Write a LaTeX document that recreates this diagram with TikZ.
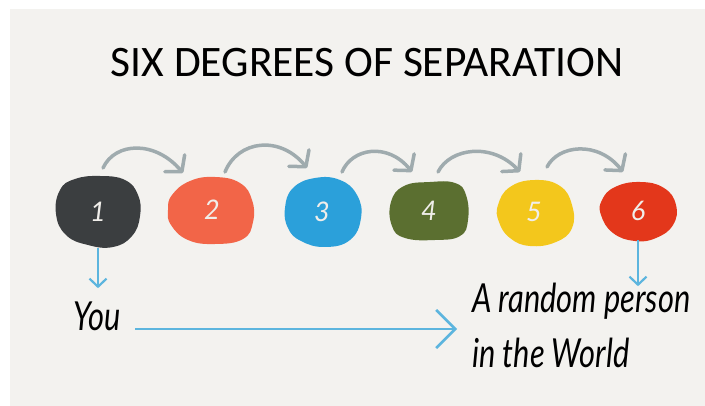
\documentclass[tikz,border=0pt]{standalone}
\usepackage{fontspec}
\usetikzlibrary{arrows.meta}
\newfontfamily\titlefont{Carlito}
\newfontfamily\handfont{Lato}
\definecolor{bgc}{HTML}{F3F2EF}
\definecolor{cone}{HTML}{3B3E40}
\definecolor{ctwo}{HTML}{F26548}
\definecolor{cthree}{HTML}{2BA0DA}
\definecolor{cfour}{HTML}{5B6F30}
\definecolor{cfive}{HTML}{F3C71C}
\definecolor{csix}{HTML}{E3371B}
\definecolor{grayarr}{HTML}{9FABAE}
\definecolor{bluearr}{HTML}{5CB5DE}
\definecolor{numc}{HTML}{F0EEEA}
\tikzset{
  blob/.style={smooth cycle, tension=0.75},
  numtxt/.style={circle, inner sep=0pt, text=numc, font=\handfont\itshape\fontsize{27}{30}\selectfont},
  hop/.style={draw=grayarr, line width=3.5pt, line cap=round, line join=round,
    -{Straight Barb[length=11pt,width=26pt,line cap=round,line join=round]}},
  bluelink/.style={draw=bluearr, line width=2.2pt,
    -{Straight Barb[length=8pt,width=17pt]}},
  biglink/.style={draw=bluearr, line width=2.6pt,
    -{Straight Barb[length=19pt,width=38pt]}},
  hand/.style={inner sep=0pt, anchor=base west, text=black, xscale=0.77, transform shape,
    font=\handfont\itshape\fontsize{40}{48}\selectfont}
}
\begin{document}
\begin{tikzpicture}[x=1pt,y=-1pt]
\useasboundingbox (0,0) rectangle (705,406);
\fill[white] (0,0) rectangle (705,406);
\fill[bgc] (10,9) rectangle (705,406);
% title
\node[inner sep=0pt, anchor=base, font=\titlefont\fontsize{43.5}{50}\selectfont] (title) at (367,77) {SIX DEGREES OF SEPARATION};
% blobs
\fill[cone] plot[blob] coordinates {(60,190) (75,179) (100,176) (125,180) (138,195) (140,216) (132,236) (113,247) (88,245) (66,235) (56,214)};
\fill[ctwo] plot[blob] coordinates {(172,195) (190,181) (215,177) (240,183) (252,200) (253,222) (243,239) (215,244) (188,240) (171,225) (168,210)};
\fill[cthree] plot[blob] coordinates {(285,208) (293,188) (315,178) (340,180) (357,195) (361,218) (350,240) (325,247) (301,241) (288,228)};
\fill[cfour] plot[blob] coordinates {(391,202) (404,186) (430,182) (455,183) (466,195) (468,220) (460,236) (435,240) (405,238) (392,226)};
\fill[cfive] plot[blob] coordinates {(498,205) (510,187) (535,180) (560,186) (572,205) (572,228) (556,242) (530,246) (510,238) (499,222)};
\fill[csix] plot[blob] coordinates {(602,200) (615,187) (640,182) (664,188) (676,205) (673,225) (656,238) (635,241) (613,233) (601,215)};
% numbers
\node[numtxt, minimum size=72pt] (b1) at (98,212) {1};
\node[numtxt, minimum size=66pt] (b2) at (212,210) {2};
\node[numtxt, minimum size=68pt] (b3) at (322,212) {3};
\node[numtxt, minimum size=58pt] (b4) at (429,211) {4};
\node[numtxt, minimum size=64pt] (b5) at (534,212) {5};
\node[numtxt, minimum size=58pt] (b6) at (638,211) {6};
% hop arrows
\coordinate (s1) at (103,168); \coordinate (e1) at (183,173);
\coordinate (s2) at (225,172); \coordinate (e2) at (307,168);
\coordinate (s3) at (342,172); \coordinate (e3) at (412,172);
\coordinate (s4) at (438,172); \coordinate (e4) at (520,172);
\coordinate (s5) at (547,167); \coordinate (e5) at (623,172);
\draw[hop] (s1) .. controls (115,142) and (155,140) .. (e1);
\draw[hop] (s2) .. controls (238,140) and (280,135) .. (e2);
\draw[hop] (s3) .. controls (352,148) and (388,142) .. (e3);
\draw[hop] (s4) .. controls (450,148) and (492,142) .. (e4);
\draw[hop] (s5) .. controls (558,145) and (598,140) .. (e5);
% texts
\node[hand] (you) at (73,331) {You};
\node[hand] (rand) at (472,313) {A random person};
\node[hand] (world) at (472,367) {in the World};
% blue arrows
\draw[bluelink] (b1.south) -- ++(0,40);
\draw[bluelink] (b6.south) -- ++(0,46);
\coordinate (hs) at (135,329);
\coordinate (he) at (457,329);
\draw[biglink] (hs) -- (he);
\end{tikzpicture}
\end{document}
